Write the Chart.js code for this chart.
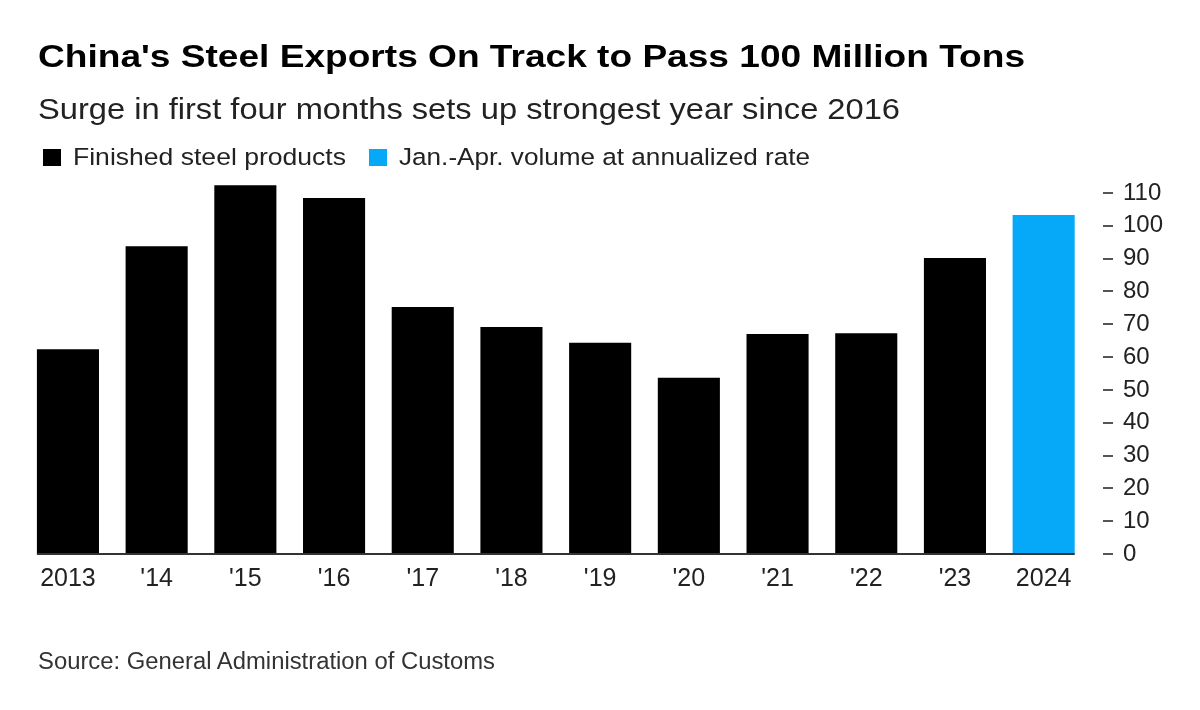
<!DOCTYPE html>
<html>
<head>
<meta charset="utf-8">
<script src="https://cdn.jsdelivr.net/npm/chart.js@4/dist/chart.umd.min.js"></script>
<style>
  html, body { margin: 0; padding: 0; background: #ffffff; }
  body { width: 1200px; height: 710px; position: relative; overflow: hidden; font-family: "Liberation Sans", Arial, sans-serif; }
  #chart { position: absolute; left: 0; top: 0; }
  .txt { position: absolute; white-space: nowrap; transform-origin: 0 50%; }
  #title { left: 38px; top: 36px; font-size: 32px; line-height: 40px; font-weight: bold; color: #000; }
  #subtitle { left: 38px; top: 91px; font-size: 29px; line-height: 36px; color: #222; }
  #source { left: 38px; top: 647px; font-size: 23px; line-height: 28px; color: #333; }
  .lg-box { position: absolute; width: 18px; height: 17px; top: 149px; }
  .lg-txt { top: 142px; font-size: 24.5px; line-height: 30px; color: #222; }
</style>
</head>
<body>
<canvas id="chart" width="1200" height="710"></canvas>
<span class="txt" id="title"></span>
<span class="txt" id="subtitle"></span>
<div class="lg-box" id="lgbox1"></div>
<span class="txt lg-txt" id="lgtxt1"></span>
<div class="lg-box" id="lgbox2"></div>
<span class="txt lg-txt" id="lgtxt2"></span>
<span class="txt" id="source"></span>
<script>
// ---- data ----
const categories = ["2013", "'14", "'15", "'16", "'17", "'18", "'19", "'20", "'21", "'22", "'23", "2024"];
const finishedSteel = [62.4, 93.8, 112.4, 108.5, 75.3, 69.2, 64.4, 53.7, 67.0, 67.3, 90.2, null];
const annualized2024 = [null, null, null, null, null, null, null, null, null, null, null, 103.3];
const yTickValues = [0, 10, 20, 30, 40, 50, 60, 70, 80, 90, 100, 110];
const seriesNames = ["Finished steel products", "Jan.-Apr. volume at annualized rate"];
const seriesColors = ["#000000", "#06a8f8"];
const titleText = "China's Steel Exports On Track to Pass 100 Million Tons";
const subtitleText = "Surge in first four months sets up strongest year since 2016";
const sourceText = "Source: General Administration of Customs";

// ---- text ----
function fit(id, text, target) {
  const el = document.getElementById(id);
  el.textContent = text;
  const w = el.getBoundingClientRect().width;
  el.style.transform = 'scaleX(' + (target / w) + ')';
}
fit('title', titleText, 987);
fit('subtitle', subtitleText, 862);
fit('source', sourceText, 457);
const lt1 = document.getElementById('lgtxt1'); lt1.style.left = '73px';
const lt2 = document.getElementById('lgtxt2'); lt2.style.left = '399px';
fit('lgtxt1', seriesNames[0], 273);
fit('lgtxt2', seriesNames[1], 411);
const b1 = document.getElementById('lgbox1'); b1.style.left = '43px'; b1.style.background = seriesColors[0];
const b2 = document.getElementById('lgbox2'); b2.style.left = '369px'; b2.style.background = seriesColors[1];

// ---- plugins ----
const baselinePlugin = {
  id: 'baseline',
  afterDatasetsDraw(chart) {
    const y = chart.scales.y.getPixelForValue(0);
    const first = chart.getDatasetMeta(0).data[0];
    const lastMeta = chart.getDatasetMeta(1).data;
    const last = lastMeta[lastMeta.length - 1];
    const ctx = chart.ctx;
    ctx.save();
    ctx.strokeStyle = '#333333';
    ctx.lineWidth = 2;
    ctx.beginPath();
    ctx.moveTo(first.x - first.width / 2, y);
    ctx.lineTo(last.x + last.width / 2, y);
    ctx.stroke();
    ctx.restore();
  }
};
const tickDashPlugin = {
  id: 'tickDash',
  afterDraw(chart) {
    const s = chart.scales.y;
    const ctx = chart.ctx;
    const x0 = chart.chartArea.right + 15;
    ctx.save();
    ctx.strokeStyle = '#555555';
    ctx.lineWidth = 2;
    s.ticks.forEach((t, i) => {
      const y = Math.round(s.getPixelForTick(i));
      ctx.beginPath();
      ctx.moveTo(x0, y);
      ctx.lineTo(x0 + 10, y);
      ctx.stroke();
    });
    ctx.restore();
  }
};

// ---- chart ----
new Chart(document.getElementById('chart'), {
  type: 'bar',
  data: {
    labels: categories,
    datasets: [
      { label: seriesNames[0], data: finishedSteel, backgroundColor: seriesColors[0], grouped: false, barPercentage: 0.7, categoryPercentage: 1.0 },
      { label: seriesNames[1], data: annualized2024, backgroundColor: seriesColors[1], grouped: false, barPercentage: 0.7, categoryPercentage: 1.0 }
    ]
  },
  options: {
    responsive: false,
    animation: false,
    devicePixelRatio: 1,
    layout: { padding: { left: 23.6, top: 176.6, right: 0, bottom: 0 } },
    plugins: { legend: { display: false }, tooltip: { enabled: false } },
    scales: {
      x: {
        grid: { display: false, drawTicks: false },
        border: { display: false },
        ticks: { color: '#222222', font: { family: 'Liberation Sans', size: 25 }, padding: 10.6, maxRotation: 0, autoSkip: false },
        afterFit(scale) { scale.height = 156; }
      },
      y: {
        position: 'right',
        min: 0,
        max: 115,
        afterBuildTicks(scale) { scale.ticks = yTickValues.map(v => ({ value: v })); },
        grid: { display: false, drawTicks: false },
        border: { display: false },
        ticks: { color: '#222222', font: { family: 'Liberation Sans', size: 24 }, padding: 35 },
        afterFit(scale) { scale.width = 112; }
      }
    }
  },
  plugins: [baselinePlugin, tickDashPlugin]
});
</script>
</body>
</html>
